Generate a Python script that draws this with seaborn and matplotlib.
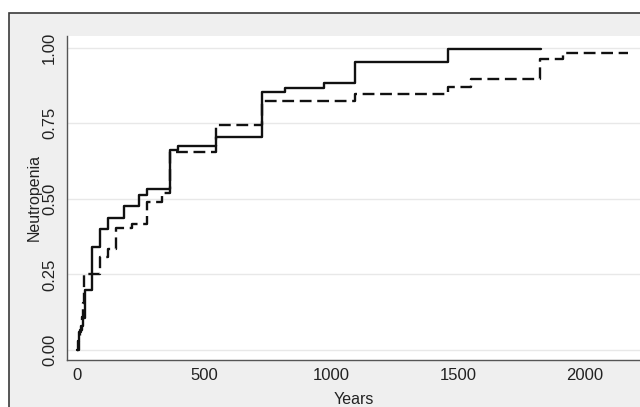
import numpy as np
import pandas as pd
import matplotlib
matplotlib.use('Agg')
import matplotlib.pyplot as plt
from matplotlib.patches import Rectangle
import seaborn as sns

# step curves (x in days, y cumulative proportion)
solid_days = [0, 4, 8, 15, 22, 31, 59, 89, 122, 184, 244, 273, 365, 398, 547, 728, 817, 971, 1095, 1460, 1826]
solid_vals = [0.0, 0.03, 0.06, 0.08, 0.105, 0.20, 0.34, 0.40, 0.438, 0.476, 0.514, 0.532, 0.661, 0.674, 0.706, 0.854, 0.868, 0.883, 0.952, 0.997, 0.997]
dashed_days = [0, 5, 10, 18, 22, 28, 89, 122, 152, 214, 273, 335, 365, 547, 728, 1095, 1460, 1550, 1825, 1916, 2171]
dashed_vals = [0.0, 0.03, 0.066, 0.11, 0.155, 0.25, 0.308, 0.333, 0.405, 0.418, 0.49, 0.521, 0.655, 0.745, 0.824, 0.846, 0.870, 0.897, 0.964, 0.983, 0.983]

xticks = [0, 500, 1000, 1500, 2000]
yticks = [0.0, 0.25, 0.5, 0.75, 1.0]
ytick_labels = ['0.00', '0.25', '0.50', '0.75', '1.00']

df = pd.concat([
    pd.DataFrame({'days': solid_days, 'value': solid_vals, 'group': 'a'}),
    pd.DataFrame({'days': dashed_days, 'value': dashed_vals, 'group': 'b'}),
])

sns.set_style('white')
plt.rcParams['font.family'] = ['Liberation Sans', 'DejaVu Sans']

fig = plt.figure(figsize=(6.4, 4.07), dpi=100, facecolor='white')
frame = Rectangle((8.5 / 640, -0.05), 1.0, 1 - 12.5 / 407 + 0.05,
                  transform=fig.transFigure, facecolor='#efefef',
                  edgecolor='#3a3a3a', linewidth=1.2, zorder=-10)
fig.patches.append(frame)

ax = fig.add_axes([66.7 / 640, 1 - 360 / 407, 1 - 66.7 / 640, (360 - 35.5) / 407])
ax.set_facecolor('white')

sns.lineplot(data=df, x='days', y='value', style='group', color='#111111',
             dashes={'a': '', 'b': (5, 2.4)}, drawstyle='steps-post',
             estimator=None, sort=False, linewidth=1.7, legend=False, ax=ax)

ax.set_xlim(-41.8, 2218)
ax.set_ylim(-0.033, 1.0406)
ax.set_xticks(xticks)
ax.set_xticklabels([str(t) for t in xticks], fontsize=12, color='#222222')
ax.set_yticks(yticks)
ax.set_yticklabels(ytick_labels, fontsize=12, color='#222222', rotation=90, va='center')
for y in yticks:
    ax.axhline(y, color='#e8e8e8', linewidth=1.0, zorder=0)

for side in ['top', 'right']:
    ax.spines[side].set_visible(False)
for side in ['left', 'bottom']:
    ax.spines[side].set_color('#555555')
    ax.spines[side].set_linewidth(1.0)
ax.tick_params(axis='x', direction='out', length=5, width=0.9, color='#555555', pad=1)
ax.tick_params(axis='y', direction='out', length=5, width=0.9, color='#555555', pad=2)

ax.set_xlabel('Years', fontsize=11.5, color='#222222', labelpad=6)
ax.set_ylabel('Neutropenia', fontsize=11.5, color='#222222', labelpad=0)

fig.savefig('out.png', dpi=100, facecolor=fig.get_facecolor())
